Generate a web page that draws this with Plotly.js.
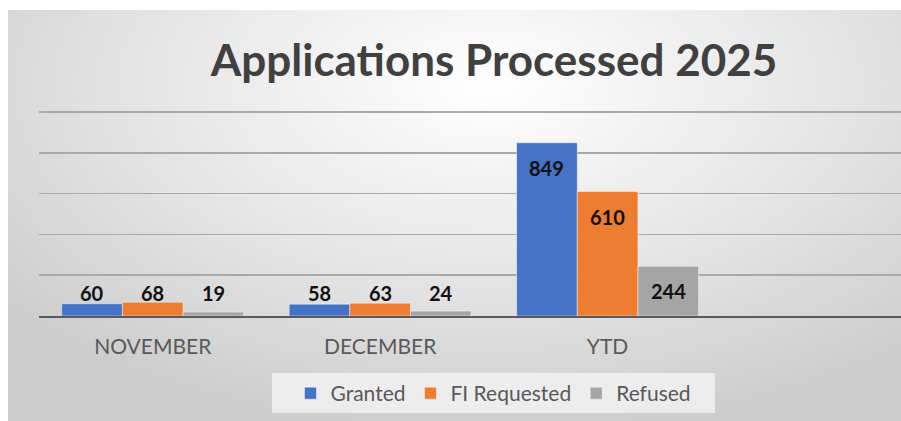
<!DOCTYPE html>
<html>
<head>
<meta charset="utf-8">
<script src="https://cdn.plot.ly/plotly-3.0.1.min.js"></script>
<style>
  html, body { margin: 0; padding: 0; background: #ffffff; }
  #wrap { position: relative; width: 901px; height: 421px; overflow: hidden; }
  #bg { position: absolute; left: 8px; top: 10px; width: 893px; height: 411px;
        background: radial-gradient(ellipse 70% 85% at 54% 18%, #ffffff 0%, #f1f1f1 30%, #e0e0e0 65%, #cdcdcd 100%); }
  #chart { position: absolute; left: 0; top: 0; width: 901px; height: 421px; }
</style>
</head>
<body>
<div id="wrap"><div id="bg"></div><div id="chart"></div></div>
<script>
const categories = ['NOVEMBER', 'DECEMBER', 'YTD'];
const seriesNames = ['Granted', 'FI Requested', 'Refused'];
const granted = [60, 58, 849];
const fiRequested = [68, 63, 610];
const refused = [19, 24, 244];
const colors = ['#4472C4', '#ED7D31', '#A5A5A5'];
const seriesValues = [granted, fiRequested, refused];

const font = 'Lato, "Open Sans", sans-serif';

const traces = seriesValues.map((vals, i) => ({
  type: 'bar',
  name: seriesNames[i],
  x: categories,
  y: vals,
  marker: { color: colors[i], line: { color: 'rgba(255,255,255,0.45)', width: 1 } },
  hoverinfo: 'skip'
}));

// data labels: inside end for tall bars, just above baseline for short ones
const nS = seriesValues.length;
const groupW = 0.8, barW = groupW / nS;
const annotations = [];
seriesValues.forEach((vals, i) => {
  const off = -groupW / 2 + barW * (i + 0.5);
  vals.forEach((v, j) => {
    const inside = v >= 200;
    annotations.push({
      xref: 'x', yref: 'y',
      x: j + off, y: inside ? v : 0,
      yshift: inside ? -25 : 23,
      text: String(v), showarrow: false,
      xanchor: 'center', yanchor: 'middle',
      font: { family: font, size: 20, color: '#111111', weight: 700 }
    });
  });
});

// plot area geometry (px) used for legend box placement
const plotL = 39, plotW = 862, plotT = 110, plotH = 206;
const px2x = p => (p - plotL) / plotW;
const py2y = p => 1 - (p - plotT) / plotH;

const layout = {
  width: 901, height: 421,
  paper_bgcolor: 'rgba(0,0,0,0)',
  plot_bgcolor: 'rgba(0,0,0,0)',
  margin: { l: plotL, r: 0, t: plotT, b: 421 - plotT - plotH, pad: 0 },
  title: {
    text: 'Applications Processed 2025',
    font: { family: font, size: 44, color: '#404040', weight: 700 },
    x: 494 / 901, xref: 'container', xanchor: 'center',
    y: 1 - 61 / 421, yref: 'container', yanchor: 'middle'
  },
  barmode: 'group',
  bargap: 0.2,
  bargroupgap: 0,
  showlegend: true,
  legend: {
    orientation: 'h',
    x: px2x(493.5), xanchor: 'center',
    y: py2y(373), yanchor: 'top',
    bgcolor: 'rgba(0,0,0,0)',
    font: { family: font, size: 21, color: '#595959' },
    traceorder: 'normal'
  },
  shapes: [{
    type: 'rect', xref: 'paper', yref: 'paper', layer: 'below',
    x0: px2x(272), x1: px2x(715), y0: py2y(413), y1: py2y(373),
    fillcolor: 'rgba(245,245,245,0.75)', line: { width: 0 }
  }],
  xaxis: {
    type: 'category',
    range: [-0.5, 3.29],
    showgrid: false,
    showline: true, linecolor: '#595959', linewidth: 2,
    ticks: '', ticklabelstandoff: 11,
    tickfont: { family: font, size: 21, color: '#595959' },
    zeroline: false, fixedrange: true
  },
  yaxis: {
    range: [0, 1010],
    dtick: 200,
    showgrid: true, gridcolor: '#a9a9a9', gridwidth: 1.7,
    showticklabels: false, zeroline: false, showline: false, ticks: '',
    fixedrange: true
  },
  annotations: annotations
};

Plotly.newPlot('chart', traces, layout, { displayModeBar: false, staticPlot: true });
</script>
</body>
</html>
